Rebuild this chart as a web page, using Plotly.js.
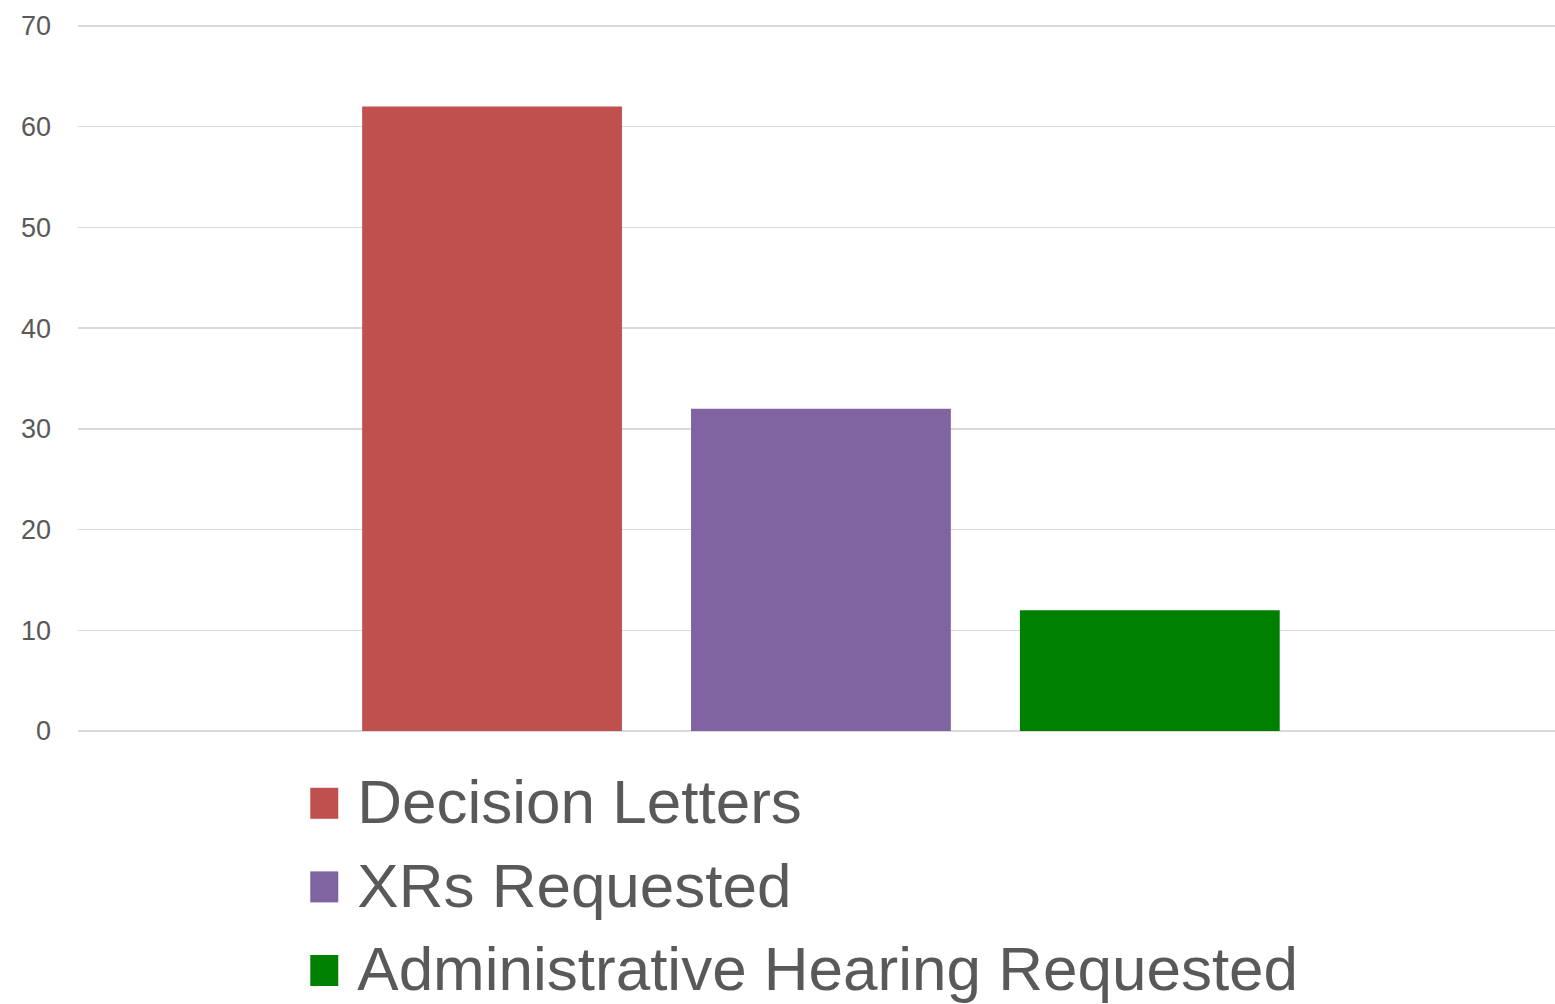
<!DOCTYPE html>
<html>
<head>
<meta charset="utf-8">
<script src="https://cdn.plot.ly/plotly-3.0.1.min.js"></script>
<style>html,body{margin:0;padding:0;background:#fff;}#chart{width:1555px;height:1004px;}</style>
</head>
<body>
<div id="chart"></div>
<script>
const category = [''];
const seriesNames = ['Decision Letters', 'XRs Requested', 'Administrative Hearing Requested'];
const decisionLetters = [62];
const xrsRequested = [32];
const adminHearingRequested = [12];
const seriesColors = ['#c0504d', '#8064a2', '#008000'];
const yTickVals = [0, 10, 20, 30, 40, 50, 60, 70];

const seriesValues = [decisionLetters, xrsRequested, adminHearingRequested];
const traces = seriesNames.map((name, i) => ({
  type: 'bar',
  name: name,
  x: category,
  y: seriesValues[i],
  marker: {color: seriesColors[i], line: {width: 0}},
  hoverinfo: 'y+name'
}));

const layout = {
  width: 1555,
  height: 1004,
  margin: {l: 78, r: 0, t: 24, b: 271, autoexpand: false},
  paper_bgcolor: '#ffffff',
  plot_bgcolor: '#ffffff',
  barmode: 'group',
  bargap: 0.332,
  bargroupgap: 0.21,
  font: {family: 'Liberation Sans, Arial, sans-serif', color: '#595959'},
  xaxis: {
    range: [-0.503, 0.497],
    showticklabels: false,
    showgrid: false,
    zeroline: false,
    showline: false,
    ticks: ''
  },
  yaxis: {
    range: [-0.2, 70.2],
    tickvals: yTickVals,
    showgrid: true,
    gridcolor: '#d9d9d9',
    gridwidth: 1.5,
    zeroline: false,
    showline: false,
    ticks: '',
    ticklabelstandoff: 26,
    tickfont: {size: 27, color: '#595959', family: 'Liberation Sans, Arial, sans-serif'}
  },
  showlegend: true,
  legend: {
    orientation: 'v',
    x: 0.162,
    xanchor: 'left',
    y: -0.0268,
    yanchor: 'top',
    font: {size: 62, color: '#595959', family: 'Liberation Sans, Arial, sans-serif'},
    itemwidth: 30,
    bgcolor: 'rgba(0,0,0,0)',
    traceorder: 'normal'
  }
};

Plotly.newPlot('chart', traces, layout, {displayModeBar: false, staticPlot: true}).then(function () {
  document.querySelectorAll('.legend, .legend [clip-path]').forEach(function (e) {
    e.removeAttribute('clip-path');
  });
  document.querySelectorAll('.legendpoints path').forEach(function (p) {
    p.removeAttribute('transform');
    p.setAttribute('d', 'M-7,-11H21V20H-7Z');
    p.style.strokeWidth = '0';
  });
});
</script>
</body>
</html>
